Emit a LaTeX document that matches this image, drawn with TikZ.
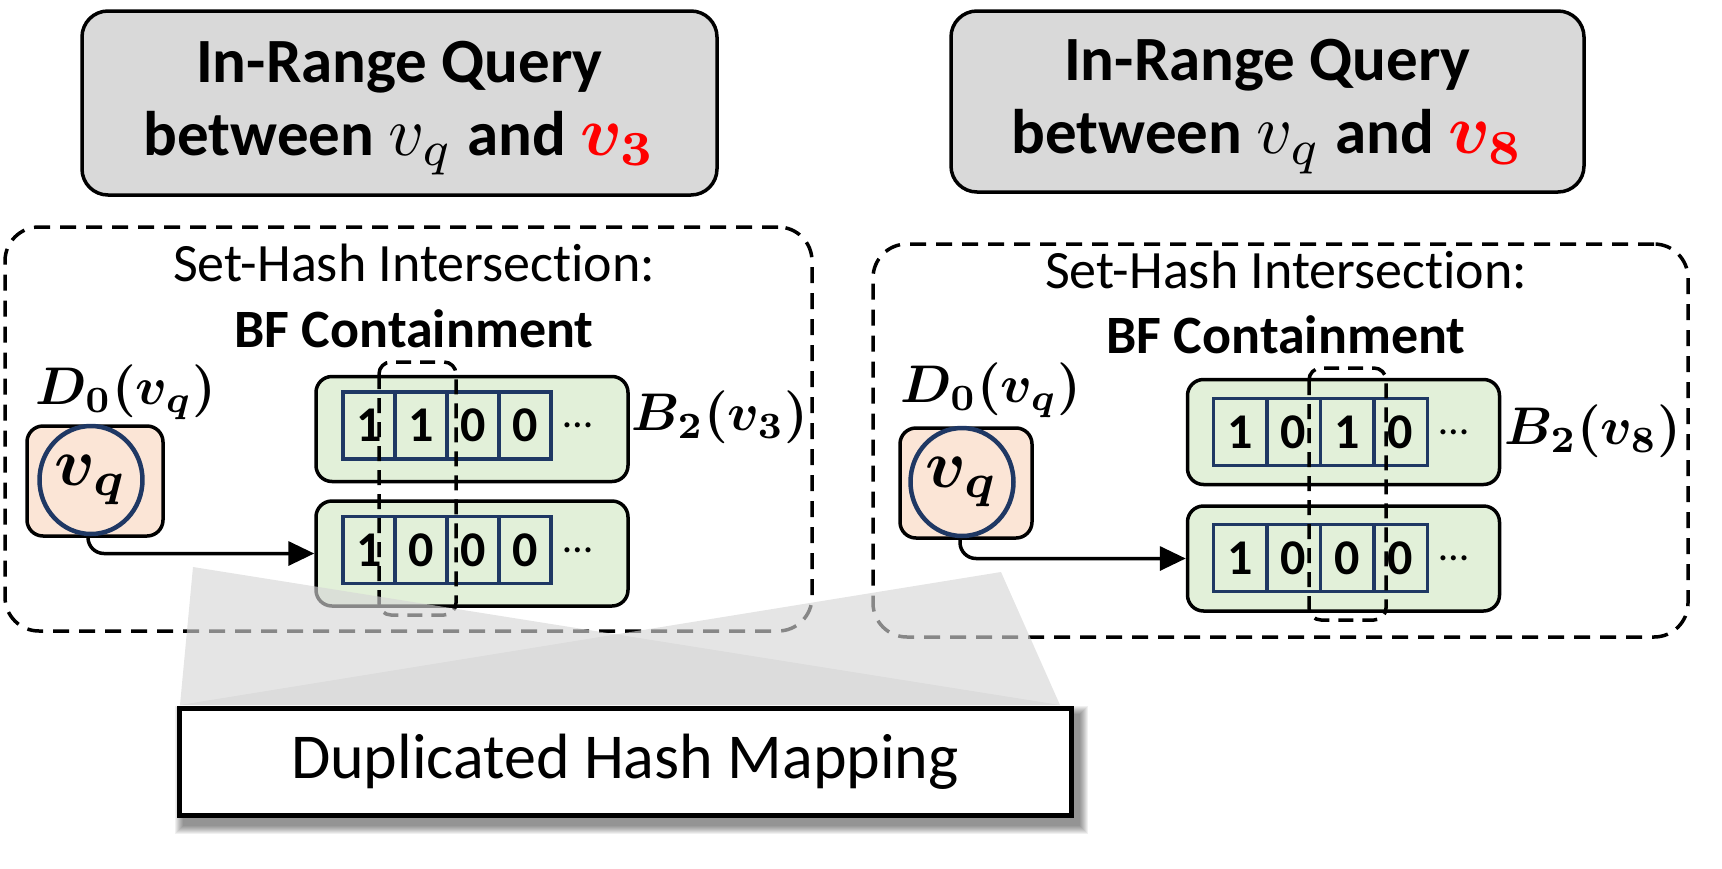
\documentclass[tikz,border=0pt]{standalone}
\usepackage{amsmath,amssymb}
\usepackage{graphicx}
\usepackage{fontspec}
\setmainfont{Carlito}[Ligatures=NoCommon]
\usepackage{xcolor}
\usepackage{tikz}
\usetikzlibrary{arrows.meta,positioning,shapes.geometric,backgrounds}
\definecolor{qGray}{HTML}{D9D9D9}
\definecolor{qPeach}{HTML}{FBE5D6}
\definecolor{qGreen}{HTML}{E2F0D9}
\definecolor{qNavy}{HTML}{1F3864}
\definecolor{qRed}{HTML}{FF0000}
% math set at 10pt and blown up
\newcommand{\mzoom}[2]{\scalebox{#1}{\fontsize{10}{12}\selectfont$#2$}}

\begin{document}
\begin{tikzpicture}[x=1pt, y=-1pt,
    titlebox/.style={draw, line width=3.5pt, rounded corners=26pt, fill=qGray, inner sep=0pt},
    titletext/.style={align=center, inner sep=0pt, font=\fontsize{63}{73}\selectfont\bfseries},
    setbox/.style={draw, line width=3.5pt, dash pattern=on 16pt off 10pt, rounded corners=34pt},
    plain54/.style={font=\fontsize{54}{60}\selectfont},
    vqbox/.style={draw, line width=3.5pt, rounded corners=16pt, fill=qPeach, inner sep=0pt},
    vqring/.style={ellipse, draw=qNavy, line width=4.5pt, minimum width=86pt, minimum height=108pt,
        inner sep=0pt},
    bfbox/.style={draw, line width=3.5pt, rounded corners=16pt, fill=qGreen, inner sep=0pt,
        minimum width=312pt, minimum height=105pt},
    bitcell/.style={draw=qNavy, line width=3.5pt, minimum width=52pt, minimum height=67pt,
        inner sep=0pt, outer sep=0pt, font=\fontsize{50}{60}\selectfont\bfseries},
    mlabel/.style={inner sep=0pt},
    moredots/.style={font=\fontsize{42}{42}\selectfont, inner sep=0pt},
    hashcol/.style={line width=3.5pt, dash pattern=on 15pt off 9pt, rounded corners=12pt},
    link/.style={-{Triangle[length=26pt, width=24pt]}, line width=3.5pt, rounded corners=16pt},
    fade/.style={fill=black!16, fill opacity=0.63}
]
\useasboundingbox (0,0) rectangle (1722,868);

% query titles
\node[titlebox, minimum width=635pt, minimum height=184pt] (qL) at (399.5,103) {};
\node[titletext] (tL) at ([yshift=-5pt]qL.center)
    {In-Range Query\\ between \mzoom{7}{v_q} and \textcolor{qRed}{\mzoom{7}{\boldsymbol{v_3}}}};
\node[titlebox, minimum width=633pt, minimum height=181pt] (qR) at (1267.5,101.5) {};
\node[titletext] (tR) at ([yshift=-5pt]qR.center)
    {In-Range Query\\ between \mzoom{7}{v_q} and \textcolor{qRed}{\mzoom{7}{\boldsymbol{v_8}}}};

% set-hash intersection frames
\node[setbox, minimum width=807pt, minimum height=404pt] (setL) at (408.5,429) {};
\node[setbox, minimum width=815pt, minimum height=393pt] (setR) at (1280.5,440.5) {};
\node[plain54, anchor=base] (shL) at (414,281) {Set-Hash Intersection:};
\node[plain54, anchor=base, font=\fontsize{54}{60}\selectfont\bfseries] (bfL) at (414,347) {BF Containment};
\node[plain54, anchor=base] (shR) at (1286,288) {Set-Hash Intersection:};
\node[plain54, anchor=base, font=\fontsize{54}{60}\selectfont\bfseries] (bfR) at (1286,353) {BF Containment};

% left: v_q against v_3
\node[mlabel] (dL) at (126,392) {\mzoom{5.3}{\boldsymbol{D_0(v_q)}}};
\node[vqbox, minimum width=136pt, minimum height=110pt] (vqL) at (95,481) {};
\node[vqring] (rgL) at (91,480) {\mzoom{6.8}{\boldsymbol{v_q}}};
\node[bfbox] (btL) at (472,429) {};
\node[bfbox] (bbL) at (472,553.5) {};
\foreach \b [count=\i] in {1,1,0,0}
    \node[bitcell] (ctL\i) at ({369+52*(\i-1)},425.5) {\b};
\foreach \b [count=\i] in {1,0,0,0}
    \node[bitcell] (cbL\i) at ({369+52*(\i-1)},550) {\b};
\node[moredots, right=12pt of ctL4] (dtL) {\textellipsis};
\node[moredots, right=12pt of cbL4] (dbL) {\textellipsis};
\node[mlabel] (bL) at (720,417) {\mzoom{5.3}{\boldsymbol{B_2(v_3)}}};
\draw[link] ([xshift=-7pt]vqL.south) |- (bbL.west);
\draw[hashcol] (379,362) rectangle (456,615);

% right: v_q against v_8
\node[mlabel] (dR) at (991,390) {\mzoom{5.3}{\boldsymbol{D_0(v_q)}}};
\node[vqbox, minimum width=132pt, minimum height=110pt] (vqR) at (966,483) {};
\node[vqring] (rgR) at (962,482) {\mzoom{6.8}{\boldsymbol{v_q}}};
\node[bfbox] (btR) at (1343.5,432) {};
\node[bfbox] (bbR) at (1343.5,558.5) {};
\foreach \b [count=\i] in {1,0,1,0}
    \node[bitcell, minimum width=53.5pt] (ctR\i) at ({1240+53.5*(\i-1)},432) {\b};
\foreach \b [count=\i] in {1,0,0,0}
    \node[bitcell, minimum width=53.5pt] (cbR\i) at ({1240+53.5*(\i-1)},558) {\b};
\node[moredots, right=12pt of ctR4] (dtR) {\textellipsis};
\node[moredots, right=12pt of cbR4] (dbR) {\textellipsis};
\node[mlabel] (bR) at (1593,431) {\mzoom{5.3}{\boldsymbol{B_2(v_8)}}};
\draw[link] ([xshift=-6pt]vqR.south) |- (bbR.west);
\draw[hashcol] (1309,368) rectangle (1386,620);

% zoom-out fan
\fill[fade] (193,567) -- (180,705) -- (1060,705) -- cycle;
\fill[fade] (1001,572) -- (1060,705) -- (180,705) -- cycle;

% duplicated mapping box
\node[draw, line width=5pt, fill=white, minimum width=892pt, minimum height=107pt,
    font=\fontsize{64}{70}\selectfont] (dup) at (625,761.5) {Duplicated Hash Mapping};
\begin{scope}[on background layer]
    \foreach \k in {0,...,8}
        \fill[black, opacity=0.06] ([shift={(6-\k,8-\k)}]dup.north west) rectangle ([shift={(6+\k,8+\k)}]dup.south east);
\end{scope}
\end{tikzpicture}
\end{document}
